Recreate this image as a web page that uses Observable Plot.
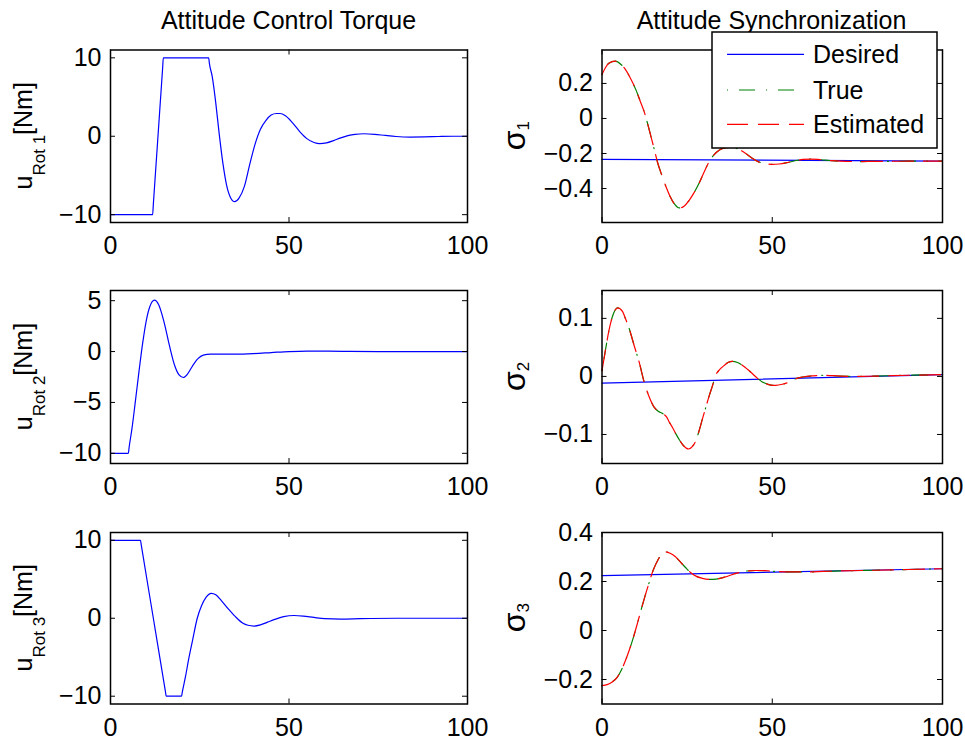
<!DOCTYPE html>
<html><head><meta charset="utf-8">
<script src="https://cdn.jsdelivr.net/npm/d3@7"></script>
<script src="https://cdn.jsdelivr.net/npm/@observablehq/plot@0.6"></script>
<style>
body{margin:0;background:#fff;}
#chart{position:relative;width:965px;height:743px;background:#fff;overflow:hidden;}
#chart svg{position:absolute;}
</style></head><body><div id="chart"></div>
<script>
// ---------- data ----------
const xTicks = [0, 50, 100];
const titles = ["Attitude Control Torque", "Attitude Synchronization"];
const legendNames = ["Desired", "True", "Estimated"];

// Attitude control torque u_Rot (Nm)
const tU1 = [0,11.8,12.0,13.3,14.6,14.8,27.5,27.7,28.5,29.5,30.4,31.5,32.5,33.6,34.8,36,37.5,39,40.5,42,43.5,45,46.5,47.5,49,51,53,55,57,58.6,60.5,62.5,64.5,66.5,68.5,71,74,77,80,84,88,92,96,100];
const u1 = [-10,-10,-8.67,0,8.67,10,10,9.3,7.6,4.2,0.5,-3.5,-6.2,-7.8,-8.35,-7.9,-6.4,-3.6,-1.0,0.9,2.0,2.7,2.9,2.9,2.6,1.7,0.6,-0.3,-0.8,-0.95,-0.85,-0.55,-0.2,0.08,0.25,0.32,0.25,0.1,-0.03,-0.1,-0.08,-0.03,0,0];
const tU2 = [0,5,5.2,6,7,8,9,10,11,12.3,13.5,15,16.5,18,19.2,20.4,21.6,23,24.5,26,28,35,40,45,50,55,65,75,100];
const u2 = [-10,-10,-9.45,-7.6,-4.8,-1.9,0.8,3,4.4,5.05,4.6,2.9,0.6,-1.4,-2.3,-2.55,-2.2,-1.4,-0.7,-0.35,-0.25,-0.25,-0.2,-0.1,0,0.05,0.02,0,0];
const tU3 = [0,8.4,8.6,12,15.4,15.6,19.9,20.1,21,22,23,24.3,25.5,26.8,28.2,29.5,31,33,35,37,38.5,40.2,42,44,46,48.5,51.4,54,57,60,64.5,70,80,100];
const u3 = [10,10,9.44,0,-9.44,-10,-10,-9.5,-7.5,-5,-2.8,0,1.6,2.7,3.2,3.0,2.3,1.2,0.2,-0.6,-0.9,-1.0,-0.85,-0.5,-0.15,0.2,0.35,0.28,0.1,-0.05,-0.1,-0.05,0,0];

// Attitude synchronization sigma (MRP)
const tDes = [0, 100];
const s1Des = [-0.234, -0.243];
const s2Des = [-0.0115, 0.003];
const s3Des = [0.224, 0.252];

const tS1 = [0,1,2,3.9,5.5,7,8.5,10,11.2,12.4,13.4,14.4,15.4,16.3,17.5,18.8,20,21.2,22.7,24,25.5,27,28.5,30,31.5,33,34.5,36,37.5,39,40.5,42.2,44,46,48,50,52,54,57,59,61.3,64,67,70,75,80,90,100];
const s1True = [0.251,0.29,0.315,0.327,0.31,0.276,0.224,0.162,0.1,0.038,-0.03,-0.105,-0.18,-0.25,-0.32,-0.39,-0.445,-0.486,-0.511,-0.503,-0.47,-0.425,-0.37,-0.305,-0.245,-0.205,-0.18,-0.168,-0.165,-0.168,-0.18,-0.2,-0.225,-0.248,-0.258,-0.262,-0.26,-0.254,-0.24,-0.234,-0.232,-0.235,-0.24,-0.244,-0.246,-0.245,-0.244,-0.243];
const s1Est = [0.251,0.29,0.315,0.327,0.31,0.276,0.224,0.162,0.1,0.038,-0.03,-0.105,-0.18,-0.25,-0.32,-0.39,-0.445,-0.486,-0.511,-0.503,-0.47,-0.425,-0.37,-0.305,-0.245,-0.205,-0.18,-0.168,-0.165,-0.168,-0.18,-0.2,-0.225,-0.248,-0.258,-0.262,-0.26,-0.254,-0.24,-0.234,-0.232,-0.235,-0.24,-0.244,-0.246,-0.245,-0.244,-0.243];

const tS2 = [0,1,2,3,4.6,6,7,8,9.5,10.9,12.4,13.9,15.3,16.5,17.8,19,19.7,20.7,21.7,22.8,23.9,25.4,26.5,27.6,28.5,29.5,30.5,31.5,32.5,33.4,34.6,35.9,37,38.3,39.8,41.3,42.8,44.2,45.6,47.1,49,51,53,54.9,56.9,59,62,65,70,75,80,90,100];
const s2True = [0.01,0.045,0.078,0.102,0.118,0.112,0.098,0.082,0.052,0.025,-0.01,-0.036,-0.053,-0.06,-0.064,-0.07,-0.078,-0.088,-0.099,-0.11,-0.119,-0.125,-0.121,-0.11,-0.094,-0.073,-0.053,-0.033,-0.015,0.002,0.012,0.019,0.024,0.026,0.024,0.019,0.012,0.0046,-0.003,-0.0098,-0.014,-0.0155,-0.0135,-0.0098,-0.004,-0.001,0.001,0.002,0.0005,0,0.0005,0.002,0.003];
const s2Est = [0.01,0.045,0.078,0.102,0.118,0.112,0.098,0.082,0.052,0.025,-0.01,-0.036,-0.053,-0.06,-0.064,-0.07,-0.078,-0.088,-0.099,-0.11,-0.119,-0.125,-0.121,-0.11,-0.094,-0.073,-0.053,-0.033,-0.015,0.002,0.012,0.019,0.024,0.026,0.024,0.019,0.012,0.0046,-0.003,-0.0098,-0.014,-0.0155,-0.0135,-0.0098,-0.004,-0.001,0.001,0.002,0.0005,0,0.0005,0.002,0.003];

const tS3 = [0,1.5,3,4.5,6,7.5,9,10.5,12,13.5,15,16.5,18.3,20,21.5,23,24.6,26,27.6,29.5,31.5,33.5,36,39.3,42,45.2,48,52,56,60,65,70,80,90,100];
const s3True = [-0.225,-0.221,-0.21,-0.19,-0.152,-0.1,-0.038,0.034,0.11,0.18,0.245,0.29,0.322,0.315,0.302,0.28,0.256,0.237,0.222,0.213,0.209,0.21,0.218,0.233,0.242,0.245,0.244,0.24,0.239,0.239,0.241,0.243,0.246,0.249,0.252];
const s3Est = [-0.225,-0.221,-0.21,-0.19,-0.152,-0.1,-0.038,0.034,0.11,0.18,0.245,0.29,0.322,0.315,0.302,0.28,0.256,0.237,0.222,0.213,0.209,0.21,0.218,0.233,0.242,0.245,0.244,0.24,0.239,0.239,0.241,0.243,0.246,0.249,0.252];

const yTicksU1 = [-10, 0, 10];
const yTicksU2 = [-10, -5, 0, 5];
const yTicksU3 = [-10, 0, 10];
const yTicksS1 = [-0.4, -0.2, 0, 0.2];
const yTicksS2 = [-0.1, 0, 0.1];
const yTicksS3 = [-0.2, 0, 0.2, 0.4];

// ---------- drawing ----------
const FONT = '"Liberation Sans", Arial, Helvetica, sans-serif';
const FS = 25;
const BLUE = "#0000ff", GREEN = "#008000", RED = "#ff0000";
const DASH_TRUE = "1,11,16,11", DASH_EST = "21,10";
const zip = (t, v) => t.map((x, i) => ({t: x, v: v[i]}));
const fmt = d => (d < 0 ? "\u2212" : "") + String(Math.abs(d));
const chart = document.getElementById("chart");

function panel({left, top, width, ml, mr, mt, frameH, yDomain, yTicks, series}) {
  const mb = 45;
  const height = mt + frameH + mb;
  const fw = width - ml - mr;
  const marks = [
    ...series.map(s => Plot.line(s.data, {x: "t", y: "v", stroke: s.color, strokeWidth: 1.2,
        strokeDasharray: s.dash, curve: "monotone-x"})),
    Plot.tickY(yTicks, {y: d => d, insetRight: fw - 5, stroke: "black", strokeWidth: 1}),
    Plot.tickY(yTicks, {y: d => d, insetLeft: fw - 5, stroke: "black", strokeWidth: 1}),
    Plot.tickX(xTicks, {x: d => d, insetBottom: frameH - 5, stroke: "black", strokeWidth: 1}),
    Plot.tickX(xTicks, {x: d => d, insetTop: frameH - 5, stroke: "black", strokeWidth: 1}),
    Plot.axisX(xTicks, {tickSize: 0, tickPadding: 14, tickFormat: fmt, label: null, fontSize: FS, fontFamily: FONT}),
    Plot.axisY(yTicks, {tickSize: 0, tickPadding: 9, tickFormat: fmt, label: null, fontSize: FS, fontFamily: FONT}),
    Plot.frame({stroke: "black", strokeWidth: 1.5})
  ];
  const svg = Plot.plot({
    width, height, marginLeft: ml, marginRight: mr, marginTop: mt, marginBottom: mb,
    x: {domain: [0, 100], label: null},
    y: {domain: yDomain, label: null},
    style: {background: "transparent", overflow: "visible", maxWidth: "none", fontFamily: FONT, fontSize: FS + "px", color: "black"},
    marks
  });
  svg.style.left = left + "px";
  svg.style.top = top + "px";
  chart.appendChild(svg);
}

const rows = [
  {top: 30, mt: 19.5, frameH: 172.5},
  {top: 270, mt: 20, frameH: 173},
  {top: 512, mt: 20, frameH: 171.5}
];
const leftCol = {left: 0, width: 490, ml: 110, mr: 23};
const rightCol = {left: 490, width: 475, ml: 111.5, mr: 23};

const uData = [[tU1, u1, [-11, 11], yTicksU1], [tU2, u2, [-11, 6], yTicksU2], [tU3, u3, [-11, 11], yTicksU3]];
uData.forEach(([t, v, dom, ticks], i) => panel({...leftCol, ...rows[i], yDomain: dom, yTicks: ticks,
  series: [{data: zip(t, v), color: BLUE}]}));

const sData = [
  [s1Des, tS1, s1True, s1Est, [-0.594, 0.391], yTicksS1],
  [s2Des, tS2, s2True, s2Est, [-0.15, 0.148], yTicksS2],
  [s3Des, tS3, s3True, s3Est, [-0.3, 0.4], yTicksS3]
];
sData.forEach(([des, t, tr, est, dom, ticks], i) => panel({...rightCol, ...rows[i], yDomain: dom, yTicks: ticks,
  series: [
    {data: zip(tDes, des), color: BLUE},
    {data: zip(t, tr), color: GREEN, dash: DASH_TRUE},
    {data: zip(t, est), color: RED, dash: DASH_EST}
  ]}));

// overlay: titles, y labels, legend
const ov = d3.select(chart).append("svg")
  .attr("width", 965).attr("height", 743)
  .style("left", "0px").style("top", "0px").style("pointer-events", "none")
  .attr("font-family", FONT).attr("font-size", FS).attr("fill", "black");

ov.append("text").attr("x", 288.5).attr("y", 29).attr("text-anchor", "middle").text(titles[0]);
ov.append("text").attr("x", 771.5).attr("y", 29).attr("text-anchor", "middle").text(titles[1]);

const centers = rows.map(r => r.top + r.mt + r.frameH / 2);
centers.forEach((cy, i) => {
  const tx = ov.append("text").attr("transform", `translate(32,${cy}) rotate(-90)`).attr("text-anchor", "middle");
  tx.append("tspan").text("u");
  tx.append("tspan").attr("font-size", 17).attr("dy", 13).text("Rot " + (i + 1));
  tx.append("tspan").attr("dy", -13).text("[Nm]");
  const sx = ov.append("text").attr("transform", `translate(525,${cy}) rotate(-90)`).attr("text-anchor", "middle");
  sx.append("tspan").attr("font-size", 32).text("\u03c3");
  sx.append("tspan").attr("font-size", 17).attr("dy", 4).text(String(i + 1));
});

const lg = ov.append("g");
lg.append("rect").attr("x", 712).attr("y", 32).attr("width", 225).attr("height", 116)
  .attr("fill", "white").attr("stroke", "black").attr("stroke-width", 1.5);
const lgItems = [
  {name: legendNames[0], color: BLUE, dash: null, y: 54.3},
  {name: legendNames[1], color: GREEN, dash: DASH_TRUE, y: 90},
  {name: legendNames[2], color: RED, dash: DASH_EST, y: 124.3}
];
lgItems.forEach(it => {
  lg.append("line").attr("x1", 727).attr("x2", 804).attr("y1", it.y).attr("y2", it.y)
    .attr("stroke", it.color).attr("stroke-width", 1.2).attr("stroke-dasharray", it.dash);
  lg.append("text").attr("x", 813).attr("y", it.y + 8.7).text(it.name);
});
</script></body></html>
